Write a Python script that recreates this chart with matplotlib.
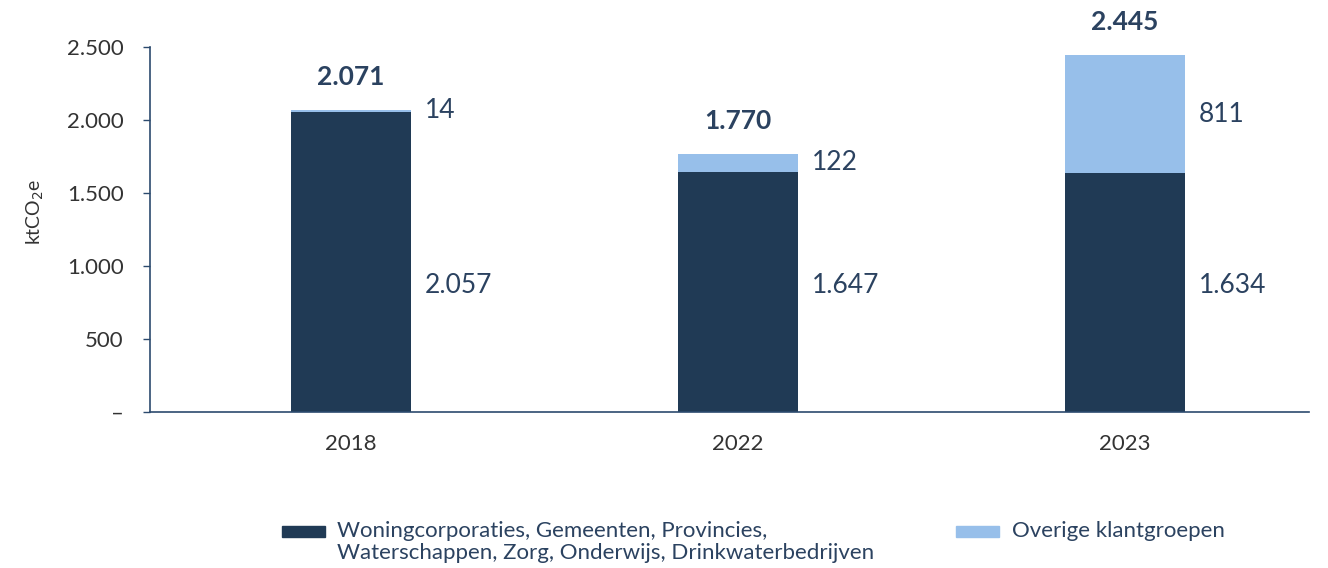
import matplotlib.pyplot as plt
from matplotlib.patches import Rectangle
import numpy as np

years = ["2018", "2022", "2023"]
publiek = [2057, 1647, 1634]
overig = [14, 122, 811]
totals = ["2.071", "1.770", "2.445"]
publiek_labels = ["2.057", "1.647", "1.634"]
overig_labels = ["14", "122", "811"]
y_ticks = [0, 500, 1000, 1500, 2000, 2500]
y_tick_labels = ["–", "500", "1.000", "1.500", "2.000", "2.500"]
legend_labels = [
    "Woningcorporaties, Gemeenten, Provincies,\nWaterschappen, Zorg, Onderwijs, Drinkwaterbedrijven",
    "Overige klantgroepen",
]

DARK = "#203a55"
LIGHT = "#97bfea"
NAVY_TEXT = "#2b4260"
GREY_TEXT = "#333333"

plt.rcParams["font.family"] = ["Lato", "DejaVu Sans"]

W, H = 1328, 568
fig = plt.figure(figsize=(W / 100, H / 100), dpi=100)
ax = fig.add_axes([0.113, 0.2746, 0.873, 0.6426])

x = np.arange(len(years))
width = 0.31
ax.bar(x, publiek, width, color=DARK)
ax.bar(x, overig, width, bottom=publiek, color=LIGHT)

for i in range(len(years)):
    top = publiek[i] + overig[i]
    ax.annotate(totals[i], (x[i], top), xytext=(0, 15), textcoords="offset points",
                ha="center", va="bottom", fontsize=19, fontweight="bold",
                color=NAVY_TEXT, annotation_clip=False)
    ax.annotate(publiek_labels[i], (x[i] + width / 2, 870), xytext=(10, 0),
                textcoords="offset points", ha="left", va="center",
                fontsize=19, color=NAVY_TEXT)
    ax.annotate(overig_labels[i], (x[i] + width / 2, publiek[i] + overig[i] / 2),
                xytext=(10, 0), textcoords="offset points", ha="left",
                va="center", fontsize=19, color=NAVY_TEXT)

ax.set_xlim(-0.52, 2.478)
ax.set_ylim(0, 2500)
ax.set_xticks(x)
ax.set_xticklabels(years, fontsize=16, color=GREY_TEXT)
ax.tick_params(axis="x", length=0, pad=16)
ax.set_yticks(y_ticks)
ax.set_yticklabels(y_tick_labels, fontsize=16, color=GREY_TEXT)
ax.tick_params(axis="y", length=5, width=1, color="#2c4a6e", pad=14)
ax.set_ylabel("ktCO$_2$e", fontsize=14, color=GREY_TEXT)
ax.yaxis.set_label_coords(-0.09, 0.55)

for side in ["top", "right"]:
    ax.spines[side].set_visible(False)
for side in ["left", "bottom"]:
    ax.spines[side].set_color("#2c4a6e")
    ax.spines[side].set_linewidth(1.2)

# legend, drawn by hand so the swatch lines up with the first text line
legend_items = [(282, 337, DARK, legend_labels[0]), (956, 1012, LIGHT, legend_labels[1])]
for px, tx, col, lab in legend_items:
    fig.add_artist(Rectangle((px / W, 1 - 537 / H), 43 / W, 11 / H,
                             transform=fig.transFigure, color=col))
    fig.text(tx / W, 1 - 521 / H, lab, ha="left", va="top", fontsize=16,
             color=NAVY_TEXT, linespacing=1.15)

fig.savefig("out.png", dpi=100)
